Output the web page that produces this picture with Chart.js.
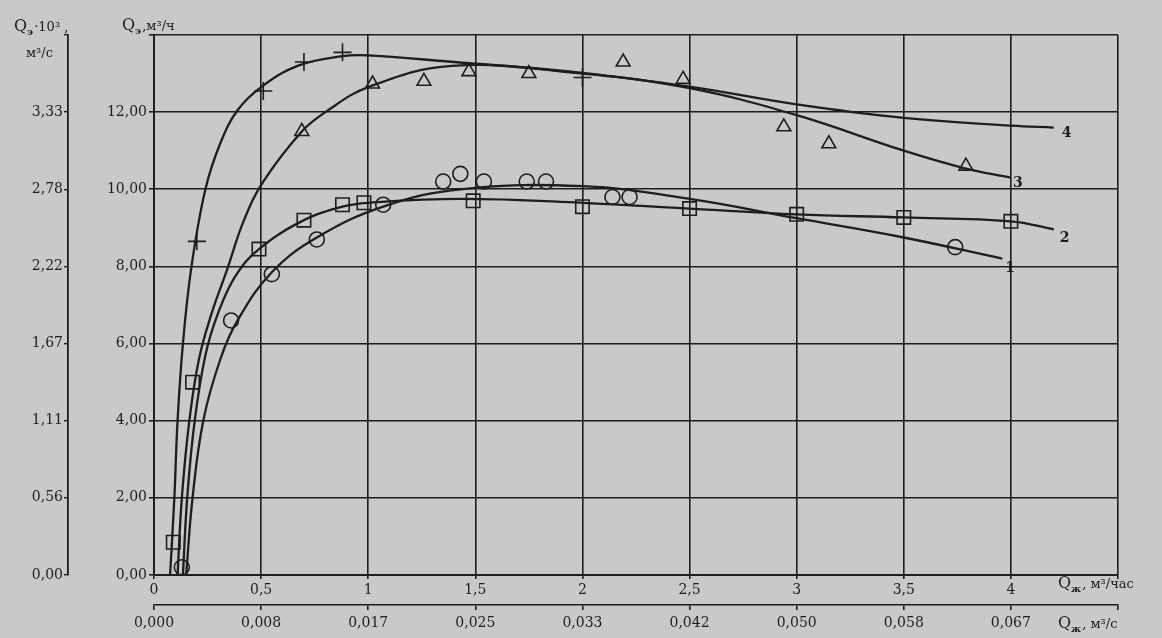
<!DOCTYPE html>
<html>
<head>
<meta charset="utf-8">
<script src="https://cdn.jsdelivr.net/npm/chart.js@4.4.0/dist/chart.umd.min.js"></script>
<style>
  html, body { margin: 0; padding: 0; background: #c9c9c9; }
  #wrap { width: 1162px; height: 638px; }
</style>
</head>
<body>
<div id="wrap"><canvas id="myChart"></canvas></div>
<script>
// tick labels
var xTickLabels = ['0', '0,5', '1', '1,5', '2', '2,5', '3', '3,5', '4', ''];
var x2TickLabels = ['0,000', '0,008', '0,017', '0,025', '0,033', '0,042', '0,050', '0,058', '0,067', ''];
var yTickLabels = ['0,00', '2,00', '4,00', '6,00', '8,00', '10,00', '12,00', ''];
var y2TickLabels = ['0,00', '0,56', '1,11', '1,67', '2,22', '2,78', '3,33', ''];
var curveNames = ['1', '2', '3', '4'];

// smooth curves [Qж, Qэ]
var curve1 = [[0.15, 0], [0.18, 2], [0.23, 4], [0.31, 5.6], [0.39, 6.6], [0.55, 7.85], [0.76, 8.75],
    [1.07, 9.55], [1.43, 10.0], [2.0, 10.08], [2.5, 9.75], [3.0, 9.25], [3.5, 8.75], [3.96, 8.2]];
var curve2 = [[0.135, 0], [0.155, 2], [0.19, 4], [0.24, 5.7], [0.30, 6.8], [0.38, 7.75], [0.49, 8.45],
    [0.70, 9.2], [0.88, 9.55], [1.0, 9.65], [1.43, 9.75], [2.0, 9.65], [2.5, 9.5], [3.0, 9.35], [3.5, 9.27],
    [4.0, 9.17], [4.2, 8.96]];
var curve3 = [[0.11, 0], [0.13, 2], [0.165, 4], [0.21, 5.6], [0.27, 6.8], [0.34, 7.9], [0.42, 9.2],
    [0.51, 10.2], [0.69, 11.5], [0.80, 12.0], [1.0, 12.65], [1.39, 13.2], [2.0, 13.0], [2.5, 12.62],
    [3.0, 11.92], [3.5, 11.0], [3.78, 10.55], [4.0, 10.3]];
var curve4 = [[0.075, 0], [0.095, 2], [0.11, 4], [0.135, 6], [0.175, 8], [0.24, 10.0], [0.31, 11.2],
    [0.39, 12.05], [0.50, 12.65], [0.67, 13.2], [0.88, 13.45], [1.0, 13.47], [1.4, 13.3], [2.0, 13.02],
    [2.5, 12.66], [3.0, 12.2], [3.5, 11.85], [4.0, 11.65], [4.2, 11.6]];

// measured points
var circles = [[0.13, 0.2], [0.36, 6.6], [0.55, 7.8], [0.76, 8.7], [1.07, 9.6], [1.35, 10.2], [1.43, 10.4],
    [1.54, 10.2], [1.74, 10.2], [1.83, 10.2], [2.14, 9.8], [2.22, 9.8], [3.74, 8.5]];
var squares = [[0.09, 0.85], [0.18, 5.0], [0.49, 8.45], [0.70, 9.2], [0.88, 9.6], [0.98, 9.65], [1.49, 9.7],
    [2.0, 9.55], [2.5, 9.5], [3.0, 9.35], [3.5, 9.27], [4.0, 9.17]];
var triangles = [[0.69, 11.5], [1.02, 12.73], [1.26, 12.8], [1.47, 13.05], [1.75, 13.0], [2.19, 13.3],
    [2.47, 12.85], [2.94, 11.62], [3.15, 11.18], [3.79, 10.6]];
var crosses = [[0.2, 8.65], [0.51, 12.55], [0.70, 13.3], [0.88, 13.55], [2.0, 12.9]];

var ink = '#1e1e1e';
var paper = '#c9c9c9';
var serif = 'DejaVu Serif';

function pts(arr) {
    return arr.map(function (p) { return { x: p[0], y: p[1] }; });
}

function curveSet(arr) {
    return {
        data: pts(arr), showLine: true, pointRadius: 0, borderColor: ink, borderWidth: 2.3,
        tension: 0.4, fill: false
    };
}

function markerSet(arr, style, r) {
    return {
        data: pts(arr), showLine: false, pointStyle: style, pointRadius: r,
        pointBorderColor: ink, pointBackgroundColor: 'rgba(0,0,0,0)', pointBorderWidth: 1.6
    };
}

// Q with a subscript, then the rest of the caption
function drawQ(ctx, x, y, sub, rest) {
    ctx.fillStyle = ink;
    ctx.textBaseline = 'alphabetic';
    ctx.textAlign = 'left';
    ctx.font = '16px ' + serif;
    ctx.fillText('Q', x, y);
    x += ctx.measureText('Q').width;
    ctx.font = 'bold 10px ' + serif;
    ctx.fillText(sub, x, y + 4);
    x += ctx.measureText(sub).width + 1;
    ctx.font = '13px ' + serif;
    ctx.fillText(rest, x, y);
}

var paperPlugin = {
    id: 'paper',
    beforeDraw: function (chart) {
        var ctx = chart.ctx;
        ctx.save();
        ctx.fillStyle = paper;
        ctx.fillRect(0, 0, chart.width, chart.height);
        ctx.restore();
    },
    afterDraw: function (chart) {
        var ctx = chart.ctx;
        var xs = chart.scales.x, ys = chart.scales.y;
        ctx.save();
        drawQ(ctx, 14, 31, 'э', '·10³ ,');
        ctx.font = '13px ' + serif;
        ctx.fillText('м³/с', 26, 57);
        drawQ(ctx, 122, 30, 'э', ',м³/ч');
        drawQ(ctx, 1058, 588, 'ж', ', м³/час');
        drawQ(ctx, 1058, 628, 'ж', ', м³/с');

        // curve numbers next to the curve ends
        var curves = [curve1, curve2, curve3, curve4];
        var offs = [[3, 10], [6, 9], [2, 6], [8, 6]];
        ctx.font = 'bold 14px ' + serif;
        ctx.textAlign = 'left';
        ctx.textBaseline = 'middle';
        for (var i = 0; i < curves.length; i++) {
            var last = curves[i][curves[i].length - 1];
            ctx.fillText(curveNames[i], xs.getPixelForValue(last[0]) + offs[i][0], ys.getPixelForValue(last[1]) + offs[i][1]);
        }
        ctx.restore();
    }
};

var tickFont = { family: serif, size: 14 };

var ctx = document.getElementById('myChart').getContext('2d');
var myChart = new Chart(ctx, {
    type: 'scatter',
    data: {
        datasets: [
            curveSet(curve1), curveSet(curve2), curveSet(curve3), curveSet(curve4),
            markerSet(circles, 'circle', 7.5),
            markerSet(squares, 'rect', 9.5),
            markerSet(triangles, 'triangle', 8),
            markerSet(crosses, 'cross', 9)
        ]
    },
    options: {
        responsive: true,
        maintainAspectRatio: false,
        animation: false,
        layout: { padding: { top: 35, right: 44, left: 0, bottom: 0 } },
        plugins: { legend: { display: false }, tooltip: { enabled: false } },
        scales: {
            x: {
                type: 'linear', position: 'bottom', weight: 0, min: 0, max: 4.5,
                afterFit: function (s) { s.height = 30; },
                ticks: {
                    stepSize: 0.5, color: ink, font: tickFont, padding: 3, maxRotation: 0, autoSkip: false,
                    callback: function (v, i) { return xTickLabels[i]; }
                },
                grid: { color: ink, lineWidth: 1.6, tickLength: 4, tickColor: ink },
                border: { display: true, color: ink, width: 2 }
            },
            x2: {
                type: 'linear', position: 'bottom', weight: 1, min: 0, max: 4.5,
                afterFit: function (s) { s.height = 33; },
                ticks: {
                    stepSize: 0.5, color: ink, font: tickFont, padding: 5, maxRotation: 0, autoSkip: false,
                    callback: function (v, i) { return x2TickLabels[i]; }
                },
                grid: { drawOnChartArea: false, color: ink, lineWidth: 1.6, tickLength: 5 },
                border: { display: true, color: ink, width: 1.6 }
            },
            y: {
                type: 'linear', position: 'left', weight: 0, min: 0, max: 14,
                afterFit: function (s) { s.width = 86; },
                ticks: {
                    stepSize: 2, color: ink, font: tickFont, padding: 2, autoSkip: false,
                    callback: function (v, i) { return yTickLabels[i]; }
                },
                grid: { color: ink, lineWidth: 1.6, tickLength: 5, tickColor: ink },
                border: { display: true, color: ink, width: 2 }
            },
            y2: {
                type: 'linear', position: 'left', weight: 1, min: 0, max: 14,
                afterFit: function (s) { s.width = 68; },
                ticks: {
                    stepSize: 2, color: ink, font: tickFont, padding: 1, autoSkip: false,
                    callback: function (v, i) { return y2TickLabels[i]; }
                },
                grid: { drawOnChartArea: false, color: ink, lineWidth: 1.4, tickLength: 4 },
                border: { display: true, color: ink, width: 1.8 }
            }
        }
    },
    plugins: [paperPlugin]
});
</script>
</body>
</html>
